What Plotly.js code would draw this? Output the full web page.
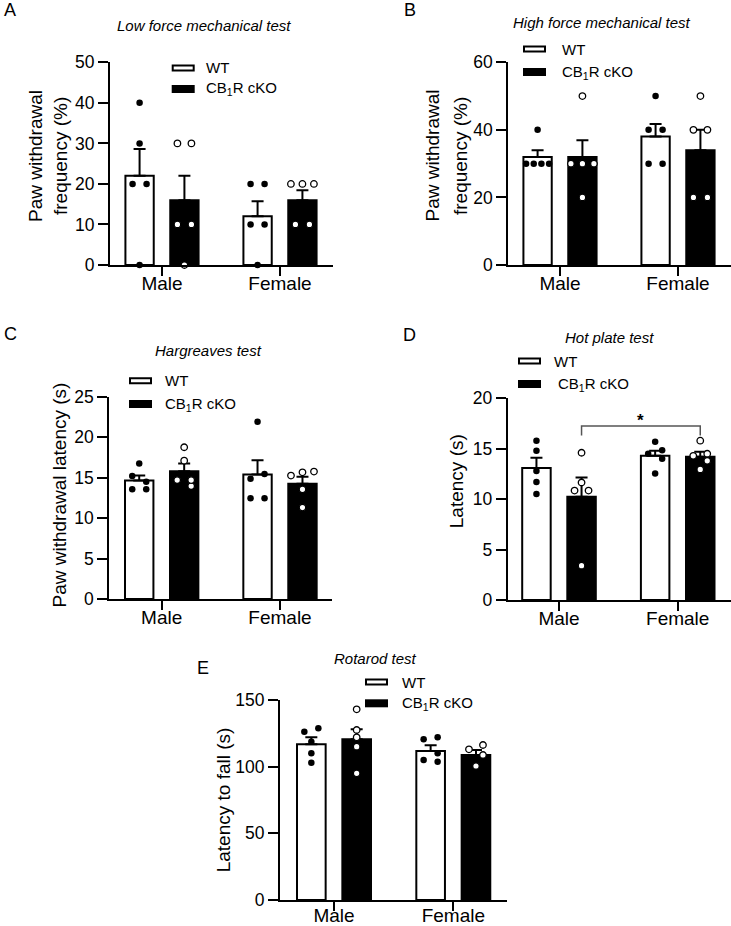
<!DOCTYPE html>
<html>
<head>
<meta charset="utf-8">
<script src="https://cdn.plot.ly/plotly-3.0.1.min.js"></script>
<style>
html,body{margin:0;padding:0;background:#fff;}
#chart{width:731px;height:926px;}
</style>
</head>
<body>
<div id="chart"></div>
<script>
// ---------------- DATA ----------------
const categories = ['Male', 'Female'];
const groupNames = ['WT', 'CB<sub>1</sub>R cKO'];

// Panel A: Low force mechanical test (%)
const aTitle = 'Low force mechanical test';
const aYLabel = ['Paw withdrawal', 'frequency (%)'];
const aWtMean = [22, 12];
const aWtSem = [6.6, 3.7];
const aKoMean = [16, 16];
const aKoSem = [6.0, 2.45];
const aWtMale = [0, 20, 20, 30, 40];
const aWtFemale = [0, 10, 10, 20, 20];
const aKoMale = [0, 10, 10, 30, 30];
const aKoFemale = [10, 10, 20, 20, 20];

// Panel B: High force mechanical test (%)
const bTitle = 'High force mechanical test';
const bYLabel = ['Paw withdrawal', 'frequency (%)'];
const bWtMean = [32, 38];
const bWtSem = [2.0, 3.7];
const bKoMean = [32, 34];
const bKoSem = [4.9, 6.0];
const bWtMale = [30, 30, 30, 30, 40];
const bWtFemale = [30, 30, 40, 40, 50];
const bKoMale = [20, 30, 30, 30, 50];
const bKoFemale = [20, 20, 40, 40, 50];

// Panel C: Hargreaves test (s)
const cTitle = 'Hargreaves test';
const cYLabel = ['Paw withdrawal latency (s)'];
const cWtMean = [14.65, 15.4];
const cWtSem = [0.6, 1.75];
const cKoMean = [15.8, 14.25];
const cKoSem = [0.95, 0.85];
const cWtMale = [13.55, 13.55, 14.5, 15.2, 16.75];
const cWtFemale = [12.45, 12.45, 14.85, 15.45, 21.9];
const cKoMale = [13.95, 14.7, 14.7, 17.1, 18.75];
const cKoFemale = [11.3, 13.55, 15.25, 15.65, 15.75];

// Panel D: Hot plate test (s)
const dTitle = 'Hot plate test';
const dYLabel = ['Latency (s)'];
const dWtMean = [13.1, 14.3];
const dWtSem = [1.0, 0.5];
const dKoMean = [10.25, 14.2];
const dKoSem = [1.9, 0.5];
const dWtMale = [10.5, 11.7, 12.8, 14.8, 15.8];
const dWtFemale = [12.55, 14.0, 14.5, 14.85, 15.7];
const dKoMale = [3.4, 10.85, 10.85, 11.65, 14.6];
const dKoFemale = [12.95, 13.8, 14.3, 14.5, 15.8];
const dSigLabel = '*';

// Panel E: Rotarod test (s)
const eTitle = 'Rotarod test';
const eYLabel = ['Latency to fall (s)'];
const eWtMean = [116.75, 111.75];
const eWtSem = [5.25, 4.25];
const eKoMean = [120.5, 108.75];
const eKoSem = [7.5, 3.75];
const eWtMale = [103, 110, 118.75, 126.25, 128.75];
const eWtFemale = [103.75, 105, 110, 120.5, 122];
const eKoMale = [95, 115, 122, 127.5, 143];
const eKoFemale = [100.5, 108.75, 113, 116.25];

// ---------------- LAYOUT HELPERS ----------------
const W = 731, H = 926;
const px = v => v / W;
const py = v => 1 - v / H;
const FONT = 'Liberation Sans, Arial, Helvetica, sans-serif';
const WT_OFF = -0.19, KO_OFF = 0.19, BAR_W = 0.24;

const panels = [
  {letter:'A', title:aTitle, yLabel:aYLabel, wtMean:aWtMean, wtSem:aWtSem, koMean:aKoMean, koSem:aKoSem,
   wtPts:[aWtMale, aWtFemale], koPts:[aKoMale, aKoFemale],
   box:{x0:110, x1:333, top:62.3, bot:265}, yMax:50, dtick:10, malePx:162, unitPx:118, standoff:-9,
   letterPos:[1.5, 10], titlePos:[204, 25.5], leg:{x:171.7, y1:68, y2:89, tx:204}, yTitleX:[35, 60], yTitleY:156},
  {letter:'B', title:bTitle, yLabel:bYLabel, wtMean:bWtMean, wtSem:bWtSem, koMean:bKoMean, koSem:bKoSem,
   wtPts:[bWtMale, bWtFemale], koPts:[bKoMale, bKoFemale],
   box:{x0:508.3, x1:731, top:62.3, bot:265}, yMax:60, dtick:20, malePx:560, unitPx:118, standoff:-9,
   letterPos:[401.5, 9.5], titlePos:[601.7, 23], leg:{x:523, y1:49, y2:72, tx:560}, yTitleX:[431.5, 460], yTitleY:156},
  {letter:'C', title:cTitle, yLabel:cYLabel, wtMean:cWtMean, wtSem:cWtSem, koMean:cKoMean, koSem:cKoSem,
   wtPts:[cWtMale, cWtFemale], koPts:[cKoMale, cKoFemale],
   box:{x0:109.3, x1:331.7, top:396.7, bot:599}, yMax:25, dtick:5, malePx:161.7, unitPx:118.3, standoff:-9,
   letterPos:[1.5, 334], titlePos:[208.7, 351], leg:{x:129, y1:380.7, y2:404, tx:163}, yTitleX:[58.5], yTitleY:495},
  {letter:'D', title:dTitle, yLabel:dYLabel, wtMean:dWtMean, wtSem:dWtSem, koMean:dKoMean, koSem:dKoSem,
   wtPts:[dWtMale, dWtFemale], koPts:[dKoMale, dKoFemale],
   box:{x0:507.7, x1:731, top:398.3, bot:600}, yMax:20, dtick:5, malePx:559, unitPx:118.7, standoff:-9,
   letterPos:[401, 335], titlePos:[609.7, 337.5], leg:{x:518, y1:361, y2:384, tx:552, tx2:555.7}, yTitleX:[456.7], yTitleY:481.5},
  {letter:'E', title:eTitle, yLabel:eYLabel, wtMean:eWtMean, wtSem:eWtSem, koMean:eKoMean, koSem:eKoSem,
   wtPts:[eWtMale, eWtFemale], koPts:[eKoMale, eKoFemale],
   box:{x0:280, x1:506.7, top:700, bot:900}, yMax:150, dtick:50, malePx:334, unitPx:119.3, standoff:-12,
   letterPos:[195, 667.5], titlePos:[375.8, 658.5], leg:{x:365, y1:682, y2:703.3, tx:400}, yTitleX:[223.3], yTitleY:800}
];

// dot spreading (simple swarm) in pixels
function swarm(vals, pxPerY) {
  const n = vals.length;
  const offs = new Array(n).fill(0);
  const idx = vals.map((v, i) => i).sort((a, b) => vals[a] - vals[b]);
  const clusters = [];
  let cur = [idx[0]];
  for (let k = 1; k < n; k++) {
    if ((vals[idx[k]] - vals[idx[k - 1]]) * pxPerY < 7) cur.push(idx[k]);
    else { clusters.push(cur); cur = [idx[k]]; }
  }
  clusters.push(cur);
  clusters.forEach(c => {
    if (c.length < 2) return;
    const range = (vals[c[c.length - 1]] - vals[c[0]]) * pxPerY;
    if (range < 5) {
      const sp = Math.min(14, 23 / (c.length - 1));
      c.forEach((id, j) => { offs[id] = (j - (c.length - 1) / 2) * sp; });
    } else {
      c.forEach((id, j) => { offs[id] = (j % 2 === 0) ? 7 : -7; });
    }
  });
  return offs;
}

const traces = [];
const shapes = [];
const annotations = [];
const layout = {
  width: W, height: H,
  margin: {l:0, r:0, t:0, b:0},
  paper_bgcolor: '#fff', plot_bgcolor: 'rgba(0,0,0,0)',
  showlegend: false,
  font: {family: FONT, color: '#000'},
  shapes: shapes, annotations: annotations
};

panels.forEach((p, k) => {
  const sfx = k === 0 ? '' : String(k + 1);
  const xName = 'x' + sfx, yName = 'y' + sfx;
  const b = p.box;
  const xr = [(b.x0 - p.malePx) / p.unitPx, (b.x1 - p.malePx) / p.unitPx];
  const pxPerY = (b.bot - b.top) / p.yMax;
  const catIdx = categories.map((c, i) => i);

  layout['xaxis' + sfx] = {
    domain: [px(b.x0), Math.min(1, px(b.x1))], anchor: yName, range: xr,
    tickvals: catIdx, ticktext: categories,
    ticks: 'outside', ticklen: 9, tickwidth: 2, tickcolor: '#000',
    ticklabelstandoff: p.standoff,
    showline: true, linewidth: 2, linecolor: '#000',
    showgrid: false, zeroline: false, fixedrange: true,
    tickfont: {family: FONT, size: 19, color: '#000'}
  };
  layout['yaxis' + sfx] = {
    domain: [py(b.bot), py(b.top)], anchor: xName, range: [0, p.yMax],
    tick0: 0, dtick: p.dtick,
    ticks: 'outside', ticklen: 10, tickwidth: 2, tickcolor: '#000',
    showline: true, linewidth: 2, linecolor: '#000',
    showgrid: false, zeroline: false, fixedrange: true,
    tickfont: {family: FONT, size: 17.5, color: '#000'}
  };

  // bars
  traces.push({
    type: 'bar', xaxis: xName, yaxis: yName, name: groupNames[0],
    x: catIdx.map(i => i + WT_OFF), y: p.wtMean, width: BAR_W,
    marker: {color: '#fff', line: {color: '#000', width: 2}},
    error_y: {type: 'data', symmetric: false, array: p.wtSem, arrayminus: p.wtSem.map(() => 0),
              color: '#000', thickness: 2, width: 6},
    hoverinfo: 'skip'
  });
  traces.push({
    type: 'bar', xaxis: xName, yaxis: yName, name: groupNames[1],
    x: catIdx.map(i => i + KO_OFF), y: p.koMean, width: BAR_W,
    marker: {color: '#000', line: {color: '#000', width: 2}},
    error_y: {type: 'data', symmetric: false, array: p.koSem, arrayminus: p.koSem.map(() => 0),
              color: '#000', thickness: 2, width: 6},
    hoverinfo: 'skip'
  });

  // dots
  const mkDots = (ptsList, off) => {
    const xs = [], ys = [];
    ptsList.forEach((vals, ci) => {
      const o = swarm(vals, pxPerY);
      vals.forEach((v, j) => { xs.push(ci + off + o[j] / p.unitPx); ys.push(v); });
    });
    return {xs, ys};
  };
  const wd = mkDots(p.wtPts, WT_OFF);
  const kd = mkDots(p.koPts, KO_OFF);
  traces.push({
    type: 'scatter', mode: 'markers', xaxis: xName, yaxis: yName, cliponaxis: false,
    x: wd.xs, y: wd.ys, marker: {color: '#000', size: 6.5, line: {width: 0}}, hoverinfo: 'skip'
  });
  traces.push({
    type: 'scatter', mode: 'markers', xaxis: xName, yaxis: yName, cliponaxis: false,
    x: kd.xs, y: kd.ys, marker: {color: '#fff', size: 6.5, line: {color: '#000', width: 1.3}}, hoverinfo: 'skip'
  });

  // panel letter
  annotations.push({xref: 'paper', yref: 'paper', x: px(p.letterPos[0]), y: py(p.letterPos[1]),
    xanchor: 'left', yanchor: 'middle', showarrow: false, text: p.letter,
    font: {family: FONT, size: 18, color: '#000'}});
  // title
  annotations.push({xref: 'paper', yref: 'paper', x: px(p.titlePos[0]), y: py(p.titlePos[1]),
    xanchor: 'center', yanchor: 'middle', showarrow: false, text: '<i>' + p.title + '</i>',
    font: {family: FONT, size: 15, color: '#000'}});
  // y title (one annotation per line)
  p.yLabel.forEach((line, li) => {
    annotations.push({xref: 'paper', yref: 'paper', x: px(p.yTitleX[li]), y: py(p.yTitleY),
      xanchor: 'center', yanchor: 'middle', showarrow: false, text: line, textangle: -90,
      font: {family: FONT, size: 19, color: '#000'}});
  });

  // legend
  const L = p.leg;
  shapes.push({type: 'rect', xref: 'paper', yref: 'paper',
    x0: px(L.x + 1), x1: px(L.x + 22), y0: py(L.y1 + 2.5), y1: py(L.y1 - 2.5),
    fillcolor: '#fff', line: {color: '#000', width: 2}});
  shapes.push({type: 'rect', xref: 'paper', yref: 'paper',
    x0: px(L.x), x1: px(L.x + 23), y0: py(L.y2 + 4), y1: py(L.y2 - 4),
    fillcolor: '#000', line: {width: 0}});
  annotations.push({xref: 'paper', yref: 'paper', x: px(L.tx), y: py(L.y1),
    xanchor: 'left', yanchor: 'middle', showarrow: false, text: groupNames[0],
    font: {family: FONT, size: 15, color: '#000'}});
  annotations.push({xref: 'paper', yref: 'paper', x: px(L.tx2 || L.tx), y: py(L.y2),
    xanchor: 'left', yanchor: 'middle', showarrow: false, text: groupNames[1],
    font: {family: FONT, size: 15, color: '#000'}});

  // significance bracket (panel D, cKO Male vs cKO Female)
  if (p.letter === 'D') {
    const xa0 = 0 + KO_OFF, xa1 = 1 + KO_OFF, yb = 17.25, yd = 16.3;
    shapes.push({type: 'path', xref: xName, yref: yName,
      path: `M ${xa0},${yd} L ${xa0},${yb} L ${xa1},${yb} L ${xa1},${yd}`,
      line: {color: '#555', width: 1.5}});
    annotations.push({xref: xName, yref: yName, x: (xa0 + xa1) / 2, y: yb, yshift: -6,
      xanchor: 'center', yanchor: 'bottom', showarrow: false, text: '<b>' + dSigLabel + '</b>',
      font: {family: FONT, size: 17, color: '#000'}});
  }
});

Plotly.newPlot('chart', traces, layout, {displayModeBar: false, staticPlot: true});
</script>
</body>
</html>
